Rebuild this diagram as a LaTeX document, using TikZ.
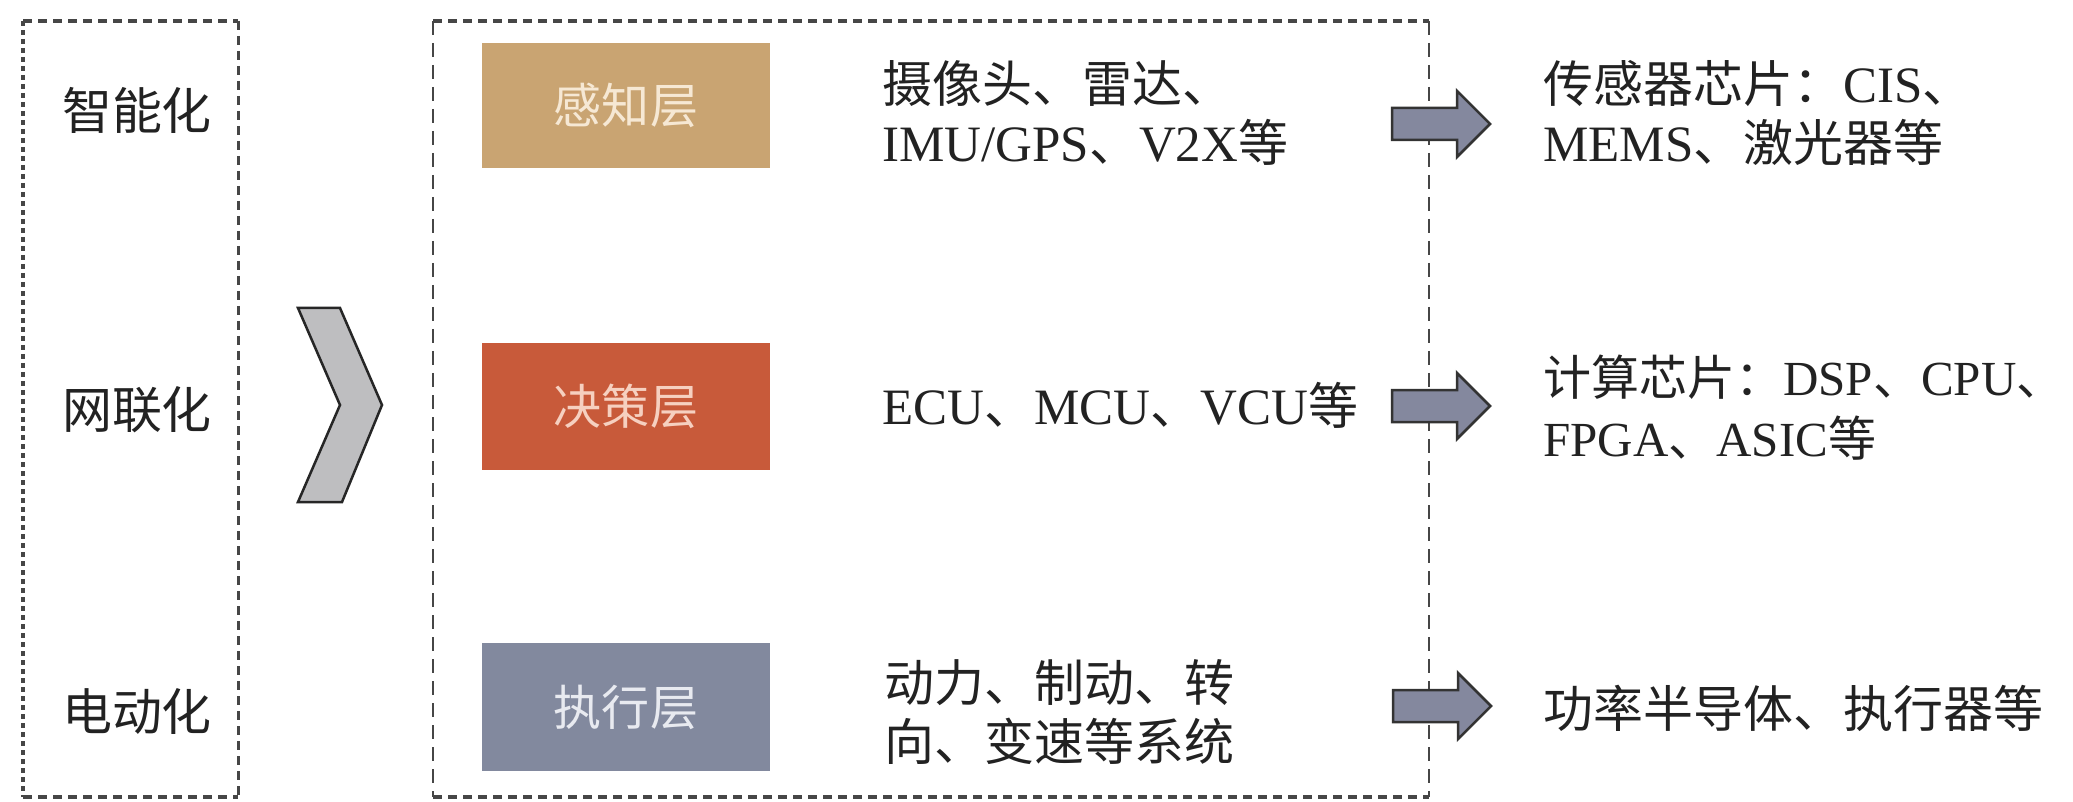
\documentclass[tikz,border=0pt]{standalone}
\usepackage{fontspec}
\setmainfont{Liberation Serif}
\newfontfamily\cjk{Noto Sans CJK SC}[Scale=0.98]
\newcommand{\zh}[1]{{\cjk #1}}
\definecolor{txt}{RGB}{34,34,34}
\definecolor{dashc}{RGB}{70,70,70}
\definecolor{tanc}{RGB}{201,164,114}
\definecolor{tant}{RGB}{246,232,212}
\definecolor{redc}{RGB}{200,90,58}
\definecolor{redt}{RGB}{246,208,192}
\definecolor{greyc}{RGB}{130,137,158}
\definecolor{greyt}{RGB}{232,234,240}
\definecolor{arrc}{RGB}{132,136,158}
\definecolor{chevc}{RGB}{190,190,192}
\tikzset{
  hd/.style={draw=dashc, line width=3.5pt, dash pattern=on 9pt off 6pt},
  vd/.style={draw=dashc, line width=2.2pt, dash pattern=on 14pt off 8pt},
  vdot/.style={draw=dashc, line width=4pt, dash pattern=on 5pt off 4pt},
  side/.style={text=txt, inner sep=0pt, font=\fontsize{51}{59}\selectfont},
  layer/.style={minimum width=288pt, inner sep=0pt, font=\fontsize{49}{59}\selectfont},
  desc/.style={anchor=west, align=left, inner sep=0pt, text=txt, font=\fontsize{51}{59}\selectfont},
  arr/.style={draw=black!80, line width=2.5pt, fill=arrc, line join=miter},
  chev/.style={draw=black!85, line width=2.5pt, fill=chevc, line join=miter},
  blockarrow/.pic={\draw[arr] (-49,-16) -- ++(65,0) -- ++(0,-17) -- ++(33,33) -- ++(-33,33) -- ++(0,-17) -- ++(-65,0) -- cycle;}
}
\begin{document}
\begin{tikzpicture}[x=1pt,y=-1pt]
\useasboundingbox (0,0) rectangle (2073,802);
\fill[white] (0,0) rectangle (2073,802);
% left dashed box
\coordinate (lb1) at (23,21);
\coordinate (lb2) at (238,21);
\coordinate (lb3) at (238,797);
\coordinate (lb4) at (23,797);
\draw[hd] (lb1) -- (lb2);
\draw[hd] (lb4) -- (lb3);
\draw[vdot] (lb1) -- (lb4);
\draw[vd, line width=3pt, dash pattern=on 9pt off 6pt] (lb2) -- (lb3);
\node[side] (s1) at (137,110) {\zh{智能化}};
\node[side] (s2) at (137,410) {\zh{网联化}};
\node[side] (s3) at (137,712) {\zh{电动化}};
% chevron
\draw[chev] (298,308) -- (340,308) -- (382,405) -- (342,502) -- (298,502) -- (340,405) -- cycle;
% middle dashed box
\coordinate (mb1) at (433,21);
\coordinate (mb2) at (1429,21);
\coordinate (mb3) at (1429,797);
\coordinate (mb4) at (433,797);
\draw[hd] (mb1) -- (mb2);
\draw[hd] (mb4) -- (mb3);
\draw[vd] (mb1) -- (mb4);
\draw[vd] (mb2) -- (mb3);
% layers
\node[layer, fill=tanc, text=tant, minimum height=125pt] (p) at (626,105.5) {\zh{感知层}};
\node[layer, fill=redc, text=redt, minimum height=127pt] (d) at (626,406.5) {\zh{决策层}};
\node[layer, fill=greyc, text=greyt, minimum height=128pt] (e) at (626,707) {\zh{执行层}};
% descriptions
\node[desc] (d1) at (882,113) {\zh{摄像头、雷达、}\\IMU/GPS\zh{、}V2X\zh{等}};
\node[desc] (d2) at (882,405) {ECU\zh{、}MCU\zh{、}VCU\zh{等}};
\node[desc] (d3) at (884,712) {\zh{动力、制动、转}\\\zh{向、变速等系统}};
% block arrows
\coordinate (a1) at (1441,124);
\coordinate (a2) at (1441,406);
\coordinate (a3) at (1442,706);
\pic at (a1) {blockarrow};
\pic at (a2) {blockarrow};
\pic at (a3) {blockarrow};
% right texts
\node[desc] (r1) at (1543,113) {\zh{传感器芯片：}CIS\zh{、}\\MEMS\zh{、激光器等}};
\node[desc, font=\fontsize{49}{61}\selectfont] (r2) at (1543,408) {\zh{计算芯片：}DSP\zh{、}CPU\zh{、}\\FPGA\zh{、}ASIC\zh{等}};
\node[desc] (r3) at (1543,708) {\zh{功率半导体、执行器等}};
\end{tikzpicture}
\end{document}
